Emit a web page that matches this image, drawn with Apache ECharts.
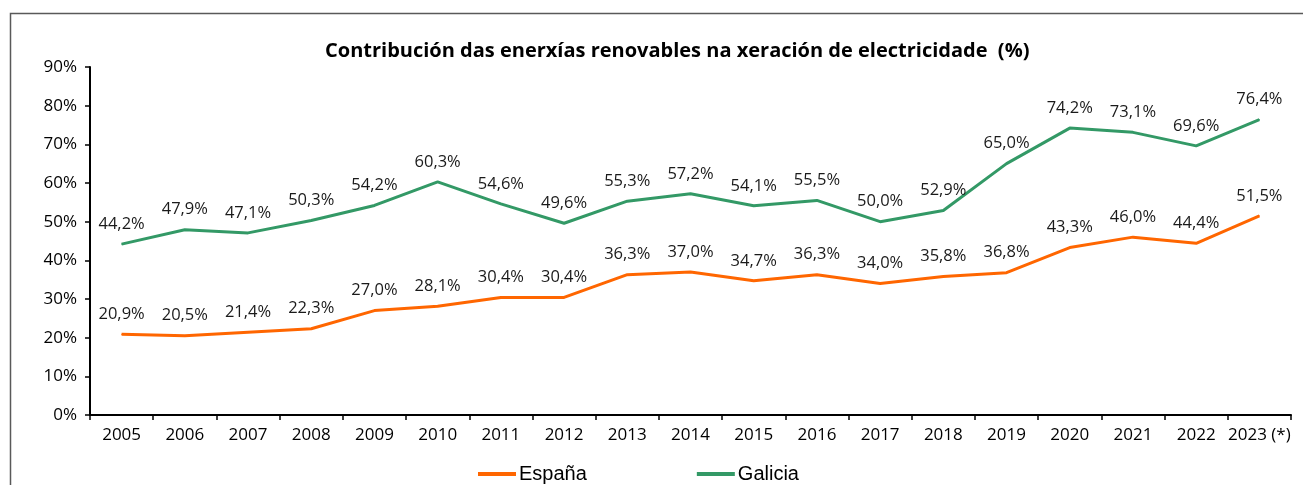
<!DOCTYPE html>
<html>
<head>
<meta charset="utf-8">
<script src="https://cdn.jsdelivr.net/npm/echarts@6/dist/echarts.min.js"></script>
<style>html,body{margin:0;padding:0;background:#fff;}#c{width:1303px;height:485px;}</style>
</head>
<body>
<div id="c"></div>
<script>
const years = ['2005','2006','2007','2008','2009','2010','2011','2012','2013','2014','2015','2016','2017','2018','2019','2020','2021','2022','2023 (*)'];
const espana = [20.9,20.5,21.4,22.3,27.0,28.1,30.4,30.4,36.3,37.0,34.7,36.3,34.0,35.8,36.8,43.3,46.0,44.4,51.5];
const galicia = [44.2,47.9,47.1,50.3,54.2,60.3,54.6,49.6,55.3,57.2,54.1,55.5,50.0,52.9,65.0,74.2,73.1,69.6,76.4];
const titleText = 'Contribución das enerxías renovables na xeración de electricidade  (%)';

const fmt = v => v.toFixed(1).replace('.', ',') + '%';
const font = '"Open Sans", "Noto Sans", sans-serif';
const chart = echarts.init(document.getElementById('c'));
const labelCfg = {
  show: true, position: 'top', distance: 11,
  formatter: p => fmt(p.value), color: '#1a1a1a', fontSize: 16.5, fontFamily: font
};
chart.setOption({
  animation: false,
  graphic: [{type:'rect', shape:{x:10.5,y:13.5,width:1310,height:490}, style:{fill:null, stroke:'#595959', lineWidth:1.5}, silent:true}],
  title: {
    text: titleText, left: 320, top: 36,
    textStyle: {fontSize: 20, fontWeight: 'bold', color: '#000', fontFamily: font}
  },
  legend: {
    bottom: -4, left: 473, itemGap: 110, itemWidth: 38, itemHeight: 4,
    icon: 'rect',
    textStyle: {fontSize: 20, color: '#000', fontFamily: '"Liberation Sans", Arial, sans-serif', padding:[0,0,0,-2]},
    data: ['España','Galicia']
  },
  grid: {left: 90, right: 12, top: 67, bottom: 70},
  xAxis: {
    type: 'category', data: years, boundaryGap: true,
    axisLine: {lineStyle: {color: '#000', width: 2}},
    axisTick: {show: true, length: 5, interval: 0, lineStyle: {color: '#000', width: 1.5}},
    axisLabel: {color: '#000', fontSize: 17, fontFamily: font, margin: 12, interval: 0}
  },
  yAxis: {
    type: 'value', min: 0, max: 90, interval: 10,
    axisLine: {show: true, lineStyle: {color: '#000', width: 2}},
    axisTick: {show: true, length: 5, lineStyle: {color: '#000', width: 1.5}},
    splitLine: {show: false},
    axisLabel: {formatter: v => v + '%', color: '#000', fontSize: 17, fontFamily: font, margin: 13}
  },
  series: [
    {name: 'España', type: 'line', data: espana, symbol: 'circle', symbolSize: 1, showSymbol: true, lineStyle: {color: '#FF6600', width: 3}, itemStyle: {color: '#FF6600'}, label: labelCfg},
    {name: 'Galicia', type: 'line', data: galicia, symbol: 'circle', symbolSize: 1, showSymbol: true, lineStyle: {color: '#339966', width: 3}, itemStyle: {color: '#339966'}, label: labelCfg}
  ]
});
</script>
</body>
</html>
